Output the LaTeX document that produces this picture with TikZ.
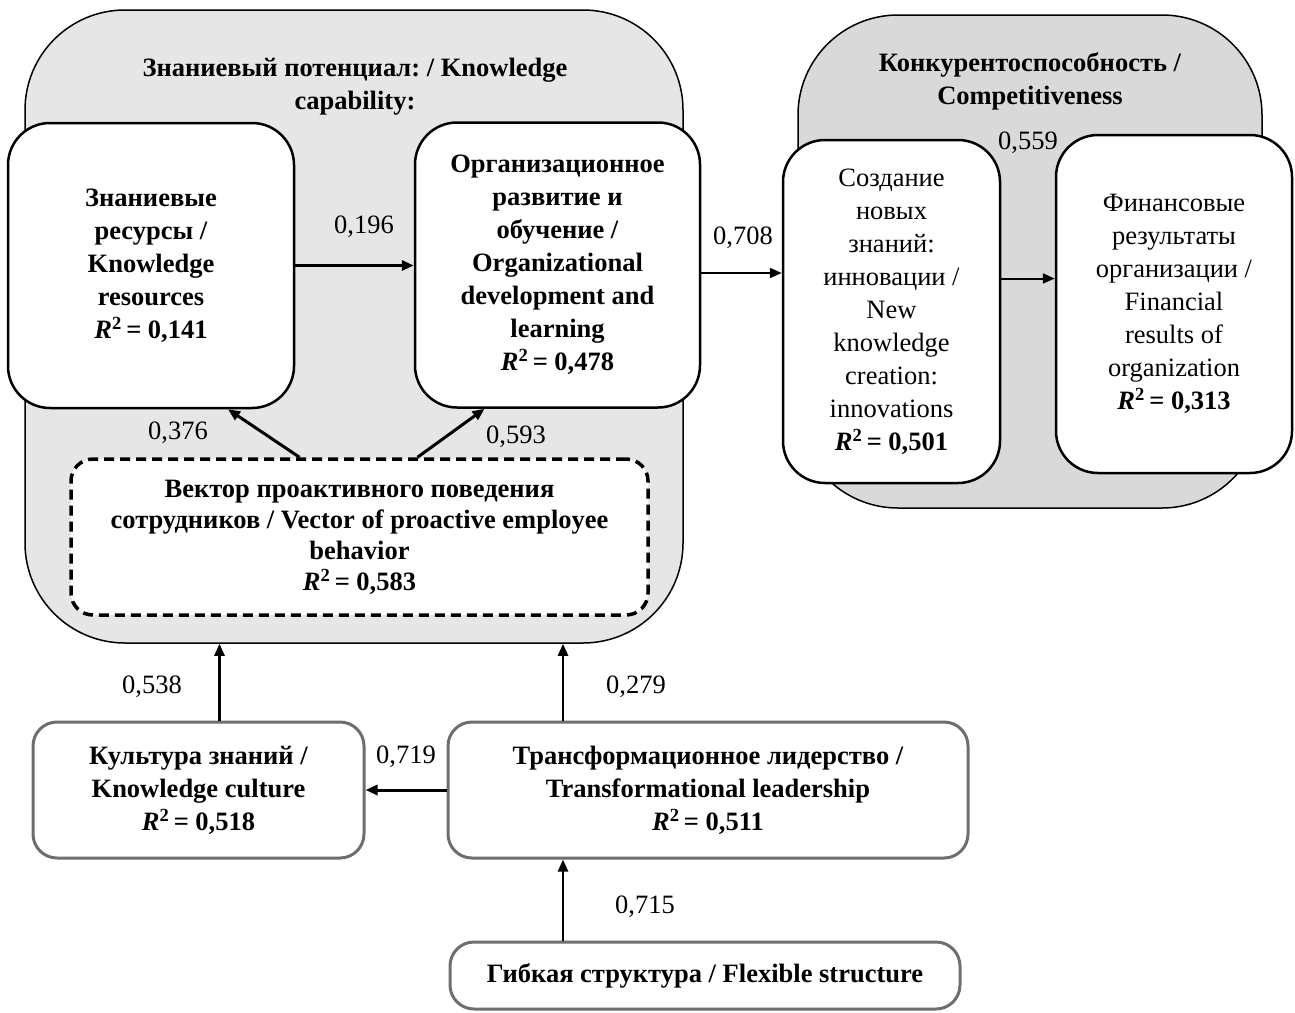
\documentclass[tikz,border=0pt]{standalone}
\usepackage{fontspec}
\setmainfont{Liberation Serif}
\usetikzlibrary{positioning, arrows.meta, calc}
\definecolor{capgray}{HTML}{E6E6E6}
\definecolor{compgray}{HTML}{D9D9D9}
\definecolor{framegray}{HTML}{6E6E6E}
\frenchspacing
\newcommand{\rsq}[1]{\textbf{\textit{R}\textsuperscript{2}\,= #1}}
\newcommand{\bigfont}{\fontsize{26.5}{33}\selectfont}

\tikzset{
  big/.style={font=\bigfont, align=center, inner sep=0pt},
  bigbold/.style={big, font=\bigfont\bfseries},
  group/.style={draw=black, line width=1.5pt, rounded corners=100pt},
  whitebox/.style={big, draw=black, fill=white, line width=2.5pt, rounded corners=42pt},
  lowbox/.style={bigbold, draw=framegray, fill=white, line width=3pt, rounded corners=24pt},
  coef/.style={font=\bigfont, inner sep=1pt},
  heavy/.style={-{Triangle[length=12pt, width=10pt]}, line width=3pt},
  light/.style={-{Triangle[length=12pt, width=10pt]}, line width=2pt}
}

\begin{document}
\begin{tikzpicture}[x=1pt, y=-1pt]
  \useasboundingbox (0,0) rectangle (1295,1012);

  % groups
  \node[group, fill=capgray, minimum width=658pt, minimum height=633pt] (kcap) at (354,326.5) {};
  \node[group, fill=compgray, minimum width=464pt, minimum height=493pt] (comp) at (1030,261.5) {};
  \node[bigbold] (kcaptitle) at (355,87)
    {Знаниевый потенциал: / Knowledge\\capability:};
  \node[bigbold] (comptitle) at (1030,81.5)
    {Конкурентоспособность /\\Competitiveness};

  % boxes
  \node[whitebox, bigbold, minimum width=286pt, minimum height=285pt] (kres) at (151,265.5)
    {Знаниевые\\ресурсы /\\Knowledge\\resources\\\rsq{0,141}};
  \node[whitebox, bigbold, minimum width=285pt, minimum height=285pt] (orgdev) at (557.5,265)
    {Организационное\\развитие и\\обучение /\\Organizational\\development and\\learning\\\rsq{0,478}};
  \node[whitebox, minimum width=217pt, minimum height=343pt] (newk) at (891.5,311.5)
    {Создание\\новых\\знаний:\\инновации /\\New\\knowledge\\creation:\\innovations\\\rsq{0,501}};
  \node[whitebox, minimum width=236pt, minimum height=338pt] (fin) at (1174,304)
    {Финансовые\\результаты\\организации /\\Financial\\results of\\organization\\\rsq{0,313}};
  \node[whitebox, font=\fontsize{26.5}{31}\selectfont\bfseries, rounded corners=22pt, dash pattern=on 10pt off 6pt, line width=3.5pt,
        minimum width=577pt, minimum height=156pt] (proact) at (359.5,537)
    {Вектор проактивного поведения\\сотрудников / Vector of proactive employee\\behavior\\\rsq{0,583}};
  \node[lowbox, minimum width=331pt, minimum height=136pt] (culture) at (198.5,790)
    {Культура знаний /\\Knowledge culture\\\rsq{0,518}};
  \node[lowbox, minimum width=520pt, minimum height=136pt] (lead) at (708,790)
    {Трансформационное лидерство /\\Transformational leadership\\\rsq{0,511}};
  \node[lowbox, minimum width=510pt, minimum height=67pt] (flex) at (705,975.5)
    {Гибкая структура / Flexible structure};

  % paths
  \draw[heavy] (kres.east) -- (kres.east -| orgdev.west);
  \draw[light] ([yshift=-8pt]orgdev.east) -- ([yshift=-8pt]orgdev.east -| newk.west);
  \draw[light] ([yshift=33pt]newk.east) -- ([yshift=33pt]newk.east -| fin.west);
  \draw[heavy] ([xshift=-60pt]proact.north) -- ([xshift=77pt]kres.south);
  \draw[heavy] ([xshift=58pt]proact.north) -- ([xshift=-73pt]orgdev.south);
  \draw[light, line width=2.5pt] ([xshift=21pt]culture.north) -- ([xshift=21pt]culture.north |- kcap.south);
  \draw[light, line width=2.5pt] ([xshift=-145pt]lead.north) -- ([xshift=-145pt]lead.north |- kcap.south);
  \draw[heavy] (lead.west) -- (lead.west -| culture.east);
  \draw[light, line width=2.5pt] ([xshift=-142pt]flex.north) -- ([xshift=-142pt]flex.north |- lead.south);

  % path coefficients
  \node[coef] (c196) at (364,227) {0,196};
  \node[coef] (c708) at (743,238) {0,708};
  \node[coef] (c559) at (1028,143) {0,559};
  \node[coef] (c376) at (178,433) {0,376};
  \node[coef] (c593) at (516,437) {0,593};
  \node[coef] (c538) at (152,687) {0,538};
  \node[coef] (c279) at (636,687) {0,279};
  \node[coef] (c719) at (406,757) {0,719};
  \node[coef] (c715) at (645,907) {0,715};
\end{tikzpicture}
\end{document}
